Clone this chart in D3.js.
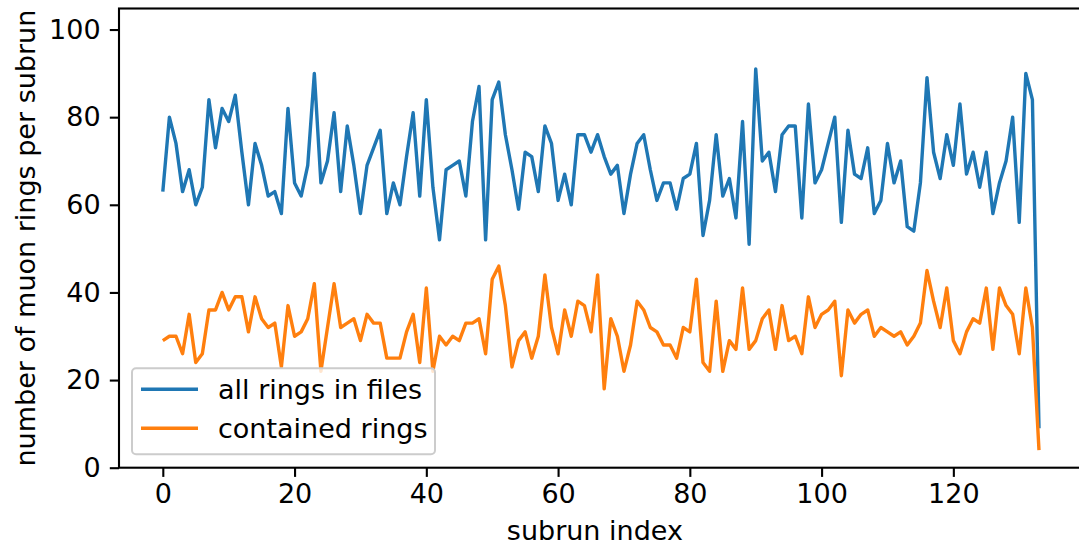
<!DOCTYPE html>
<html>
<head>
<meta charset="utf-8">
<script src="https://cdn.jsdelivr.net/npm/d3@7"></script>
<style>
  html, body { margin: 0; padding: 0; background: #fff; }
  svg { display: block; }
  text { font-family: "DejaVu Sans", sans-serif; fill: #000; }
</style>
</head>
<body>
<svg id="chart" width="1079" height="548"></svg>
<script>
// ---- data ----
const allRings = [63,80,74,63,68,60,64,84,73,82,79,85,72,60,74,69,62,63,58,82,
  65,62,69,90,65,70,81,63,78,69,58,69,73,77,58,65,60,71,81,62,
  84,64,52,68,69,70,62,79,87,52,84,88,76,68,59,72,71,63,78,74,
  61,67,60,76,76,72,76,71,67,69,58,67,74,76,68,61,65,65,59,66,
  67,74,53,61,76,62,66,57,79,51,91,70,72,63,76,78,78,57,83,65,
  68,74,80,56,77,67,66,73,58,61,74,65,70,55,54,65,89,72,66,76,
  69,83,67,72,64,72,58,65,70,80,56,90,84,9];
const containedRings = [29,30,30,26,35,24,26,36,36,40,36,39,39,31,39,34,32,33,23,37,
  30,31,34,42,22,32,42,32,33,34,29,35,33,33,25,25,25,31,35,24,
  41,22,30,28,30,29,33,33,34,26,43,46,37,23,29,31,25,30,44,32,
  26,36,30,38,37,31,44,18,34,30,22,28,38,36,32,31,28,28,25,32,
  31,43,24,22,38,22,29,27,41,27,29,34,36,27,37,29,30,26,39,32,
  35,36,38,21,36,33,35,36,30,32,31,30,31,28,30,33,45,38,32,41,
  29,26,31,34,33,41,27,41,37,35,26,41,32,4];
const seriesNames = ["all rings in files", "contained rings"];
const seriesColors = ["#1f77b4", "#ff7f0e"];
const xTicks = [0, 20, 40, 60, 80, 100, 120];
const yTicks = [0, 20, 40, 60, 80, 100];
const xLabel = "subrun index";
const yLabel = "number of muon rings per subrun";

// ---- layout ----
const W = 1079, H = 548;
const plot = { left: 119, right: 1082.8, top: 8.5, bottom: 467.7 };
const fontSize = 27;

const svg = d3.select("#chart");
const n = allRings.length;
const x = d3.scaleLinear().domain([-0.05 * (n - 1), (n - 1) * 1.05]).range([plot.left, plot.right]);
const y = d3.scaleLinear().domain([0, 104.8]).range([plot.bottom, plot.top]);

const clipId = "plotclip";
svg.append("clipPath").attr("id", clipId).append("rect")
  .attr("x", plot.left).attr("y", plot.top)
  .attr("width", plot.right - plot.left).attr("height", plot.bottom - plot.top);

const line = d3.line().x((d, i) => x(i)).y(d => y(d));
const series = [allRings, containedRings];
series.forEach((s, k) => {
  svg.append("path").datum(s)
    .attr("clip-path", `url(#${clipId})`)
    .attr("fill", "none")
    .attr("stroke", seriesColors[k])
    .attr("stroke-width", 3.4)
    .attr("stroke-linejoin", "round")
    .attr("stroke-linecap", "butt")
    .attr("d", line);
});

// axes
const xAxis = d3.axisBottom(x).tickValues(xTicks).tickSize(9.2).tickPadding(7);
const yAxis = d3.axisLeft(y).tickValues(yTicks).tickSize(9.2).tickPadding(9.2);
const gx = svg.append("g").attr("transform", `translate(0,${plot.bottom})`).call(xAxis);
const gy = svg.append("g").attr("transform", `translate(${plot.left},0)`).call(yAxis);
[gx, gy].forEach(g => {
  g.select(".domain").remove();
  g.selectAll(".tick line").attr("stroke", "#000").attr("stroke-width", 2.1);
  g.selectAll(".tick text").attr("font-size", fontSize).attr("font-family", "DejaVu Sans").attr("fill", "#000");
});

// spines
svg.append("rect")
  .attr("x", plot.left).attr("y", plot.top)
  .attr("width", plot.right - plot.left).attr("height", plot.bottom - plot.top)
  .attr("fill", "none").attr("stroke", "#000").attr("stroke-width", 2.1);

// axis labels
svg.append("text").attr("x", (plot.left + plot.right) / 2 - 6).attr("y", 540)
  .attr("text-anchor", "middle").attr("font-size", fontSize).text(xLabel);
svg.append("text")
  .attr("transform", `translate(35,${(plot.top + plot.bottom) / 2}) rotate(-90)`)
  .attr("text-anchor", "middle").attr("font-size", fontSize).text(yLabel);

// legend
const lg = svg.append("g");
lg.append("rect").attr("x", 132).attr("y", 368.3).attr("width", 303).attr("height", 86)
  .attr("rx", 4).attr("fill", "#fff").attr("fill-opacity", 0.8)
  .attr("stroke", "#cccccc").attr("stroke-width", 2);
const legendY = [389.3, 428.3];
seriesNames.forEach((name, k) => {
  lg.append("line").attr("x1", 141).attr("x2", 198)
    .attr("y1", legendY[k]).attr("y2", legendY[k])
    .attr("stroke", seriesColors[k]).attr("stroke-width", 3.4);
  lg.append("text").attr("x", 218).attr("y", legendY[k]).attr("dy", "0.36em")
    .attr("font-size", fontSize).text(name);
});
</script>
</body>
</html>
